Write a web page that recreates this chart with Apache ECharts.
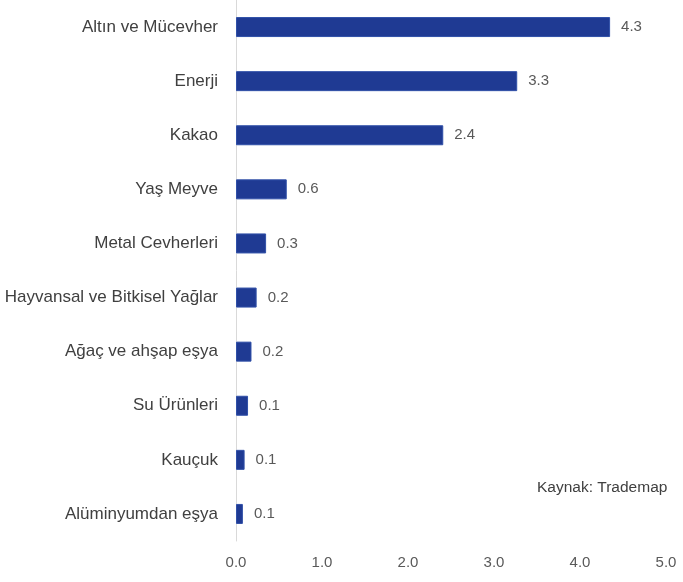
<!DOCTYPE html>
<html>
<head>
<meta charset="utf-8">
<script src="https://cdn.jsdelivr.net/npm/echarts@6/dist/echarts.min.js"></script>
<style>
  html, body { margin: 0; padding: 0; background: #fff; }
  #chart { width: 683px; height: 582px; }
</style>
</head>
<body>
<div id="chart"></div>
<script>
// kategoriler (üstten alta)
var categories = [
  'Altın ve Mücevher',
  'Enerji',
  'Kakao',
  'Yaş Meyve',
  'Metal Cevherleri',
  'Hayvansal ve Bitkisel Yağlar',
  'Ağaç ve ahşap eşya',
  'Su Ürünleri',
  'Kauçuk',
  'Alüminyumdan eşya'
];
var values = [4.35, 3.27, 2.41, 0.59, 0.35, 0.24, 0.18, 0.14, 0.10, 0.08];
var xTicks = [0, 1, 2, 3, 4, 5];
var sourceText = 'Kaynak: Trademap';

var chart = echarts.init(document.getElementById('chart'));
chart.setOption({
  animation: false,
  textStyle: { fontFamily: 'Liberation Sans' },
  grid: { left: 236, right: 17, top: -6, bottom: 41, containLabel: false },
  xAxis: {
    type: 'value',
    min: xTicks[0],
    max: xTicks[xTicks.length - 1],
    interval: 1,
    axisLine: { show: false },
    axisTick: { show: false },
    splitLine: { show: false },
    axisLabel: {
      margin: 14,
      color: '#595959',
      fontSize: 15,
      formatter: function (v) { return v.toFixed(1); }
    }
  },
  yAxis: {
    type: 'category',
    inverse: true,
    data: categories,
    axisLine: { show: true, lineStyle: { color: '#d9d9d9', width: 1 } },
    axisTick: { show: false },
    axisLabel: { margin: 18, color: '#404040', fontSize: 17 }
  },
  series: [{
    type: 'bar',
    data: values,
    barWidth: 20,
    itemStyle: { color: '#1f3a93', borderColor: '#3050a8', borderWidth: 1 },
    label: {
      show: true,
      position: 'right',
      distance: 11,
      color: '#595959',
      fontSize: 15,
      formatter: function (p) { return p.value.toFixed(1); }
    }
  }],
  graphic: [{
    type: 'text',
    left: 537,
    top: 480,
    style: { text: sourceText, fill: '#404040', font: '15.5px Liberation Sans' }
  }]
});
</script>
</body>
</html>
